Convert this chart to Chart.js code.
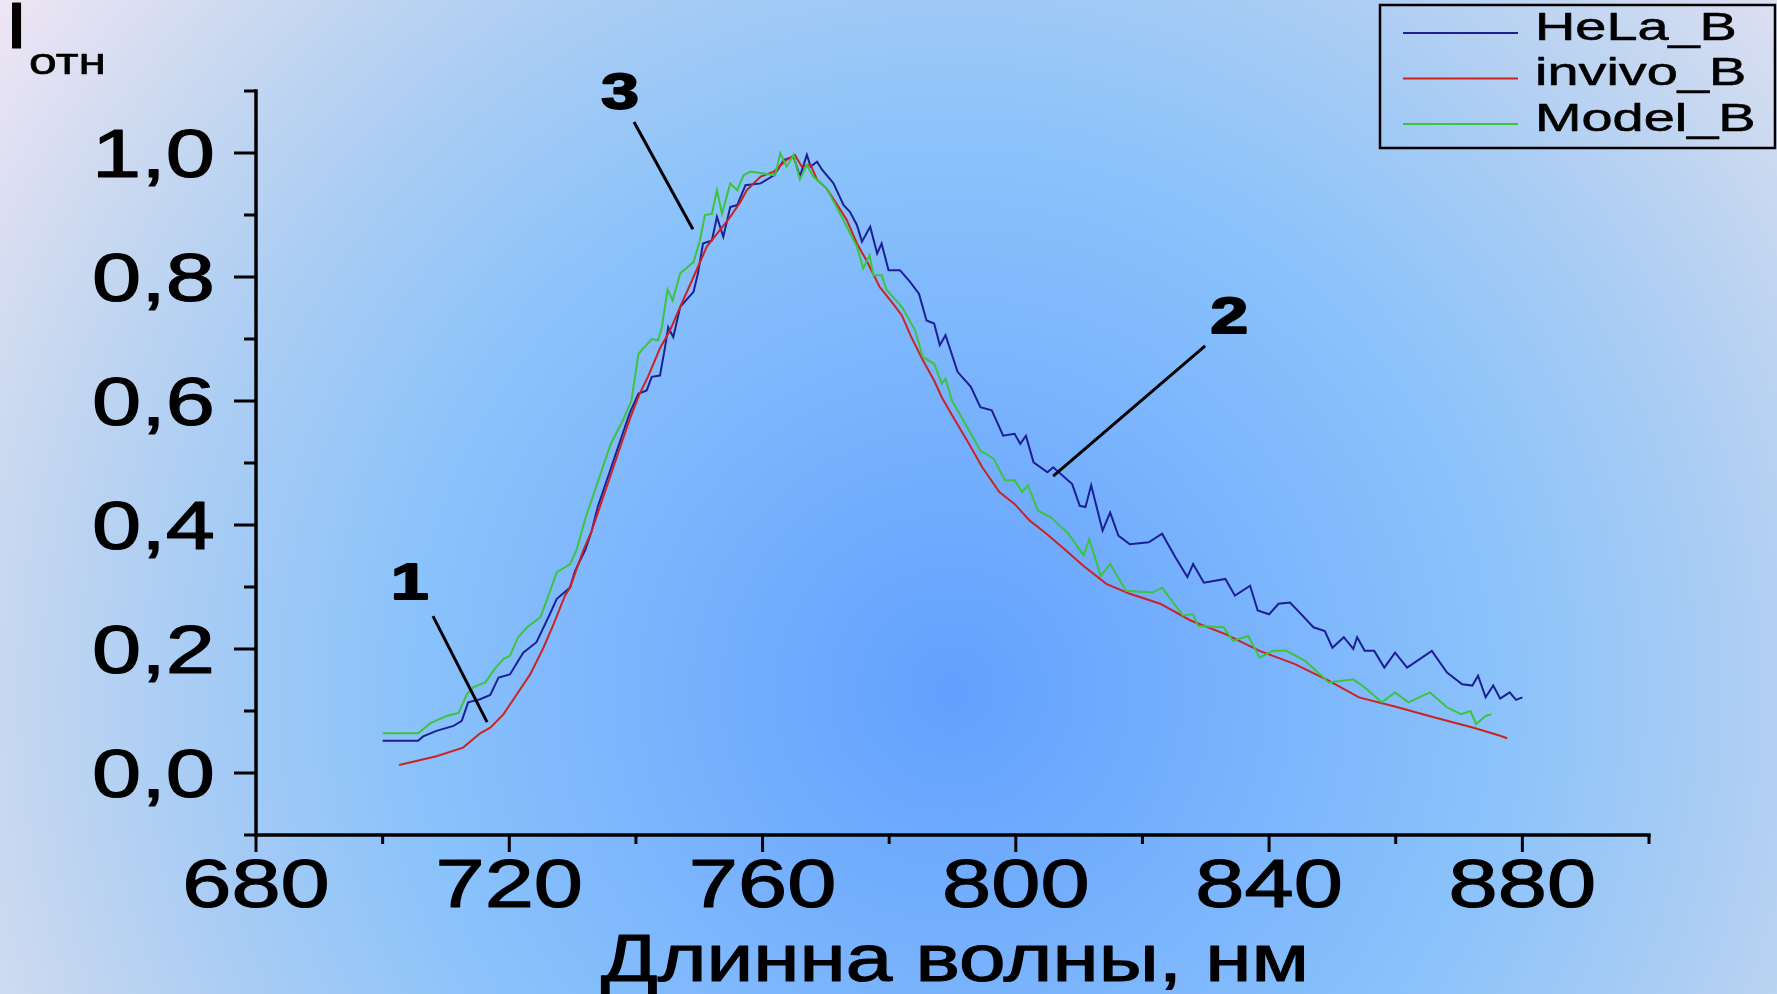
<!DOCTYPE html>
<html>
<head>
<meta charset="utf-8">
<script src="https://cdn.jsdelivr.net/npm/chart.js@4.4.1/dist/chart.umd.min.js"></script>
<style>
  html, body { margin: 0; padding: 0; }
  body {
    width: 1777px; height: 994px; overflow: hidden;
    background: radial-gradient(circle 1180px at 952px 690px, #62a0fe 0px, #78b2fd 280px, #8ac2fb 540px, #a8ccf4 760px, #c8d8f0 960px, #f0e6f4 1180px);
  }
  canvas { display: block; }
</style>
</head>
<body>
<canvas id="chart" width="1777" height="994"></canvas>
<script>
// Подписи осей и делений
const xTicks = [680, 720, 760, 800, 840, 880];
const xMinorTicks = [700, 740, 780, 820, 860, 900];
const yTicks = [0, 0.2, 0.4, 0.6, 0.8, 1.0];
const yMinorTicks = [-0.1, 0.1, 0.3, 0.5, 0.7, 0.9, 1.1];
const yTickLabels = ['0,0', '0,2', '0,4', '0,6', '0,8', '1,0'];
const xTitle = 'Длинна волны, нм';
const yTitle = 'I';
const yTitleSub = 'отн';

// Спектры (длина волны, нм / относительная интенсивность)
const helaNm = [
  700, 705.6, 706.4, 708.5, 711.2, 712.5, 713.5, 715.4, 717, 718.3,
  720.1, 722.2, 724.3, 726.4, 727.5, 729.6, 730.4, 732, 733, 734,
  735, 736, 737, 738, 739, 740.4, 741.7, 742.5, 743.8, 744.6,
  745.1, 745.9, 747, 749.1, 749.8, 750.6, 752, 752.8, 753.8, 754.9,
  756, 757.3, 759.7, 761.8, 763.4, 764.9, 765.9, 767, 767.6, 768.6,
  769.4, 771.2, 772.8, 773.8, 774.9, 775.7, 777, 778.1, 778.8, 779.9,
  781.7, 783.3, 784.7, 785.9, 787.1, 788, 788.9, 790.8, 792.9, 794.4,
  796.2, 798, 799.8, 800.7, 801.6, 802.8, 805, 805.9, 808.9, 810.1,
  811, 811.9, 813.7, 814.9, 816.2, 818, 821, 823.1, 825.2, 827.1,
  828, 829.7, 833.1, 834.6, 837, 838.2, 840, 841.5, 843.3, 844.8,
  847, 848.8, 850, 851.8, 853.3, 853.9, 855.1, 856.6, 858.2, 859.9,
  861.8, 865.7, 868.1, 870.5, 872.1, 873, 874.2, 875.4, 876.5, 878,
  879, 880
];
const helaI = [
  0.052, 0.052, 0.059, 0.068, 0.076, 0.084, 0.114, 0.119, 0.126, 0.154,
  0.159, 0.194, 0.211, 0.256, 0.281, 0.299, 0.326, 0.36, 0.39, 0.43,
  0.46, 0.49, 0.52, 0.55, 0.58, 0.612, 0.617, 0.639, 0.641, 0.687,
  0.719, 0.703, 0.752, 0.776, 0.806, 0.854, 0.859, 0.897, 0.865, 0.913,
  0.916, 0.948, 0.951, 0.964, 0.989, 0.994, 0.962, 0.997, 0.978, 0.986,
  0.973, 0.951, 0.916, 0.905, 0.884, 0.857, 0.881, 0.838, 0.854, 0.811,
  0.811, 0.792, 0.773, 0.730, 0.725, 0.690, 0.706, 0.647, 0.623, 0.590,
  0.585, 0.544, 0.547, 0.531, 0.544, 0.501, 0.485, 0.493, 0.466, 0.431,
  0.429, 0.464, 0.391, 0.420, 0.383, 0.369, 0.372, 0.386, 0.348, 0.316,
  0.337, 0.307, 0.313, 0.286, 0.302, 0.262, 0.256, 0.273, 0.275, 0.259,
  0.235, 0.229, 0.202, 0.219, 0.200, 0.219, 0.197, 0.197, 0.170, 0.194,
  0.170, 0.197, 0.162, 0.143, 0.141, 0.157, 0.122, 0.141, 0.120, 0.130,
  0.118, 0.122
];

const invivoNm = [
  702.6, 704.8, 708.5, 712.7, 715.4, 717, 719.1, 721.2, 723.3, 725.4,
  727, 728.8, 729.6, 730.9, 731.7, 733, 734, 735, 736, 737,
  738, 739, 740.6, 741.9, 743.8, 745.4, 747, 749.1, 751.2, 753.3,
  754.9, 756.5, 757.5, 759.7, 761.8, 763.8, 765.1, 766.2, 767.6, 768.6,
  770.1, 771.7, 773.3, 774.9, 776.4, 778.5, 780.6, 782, 783.5, 785.3,
  787.1, 788.3, 790.1, 792.6, 794.7, 797.4, 799.8, 802.2, 804.6, 807.7,
  810.7, 814.3, 818, 822.8, 827.6, 833.1, 838.5, 844, 849.4, 854.2,
  860.3, 866.3, 872.3, 876.5, 877.6
];
const invivoI = [
  0.013, 0.018, 0.027, 0.041, 0.064, 0.073, 0.095, 0.127, 0.159, 0.202,
  0.240, 0.286, 0.299, 0.337, 0.359, 0.39, 0.42, 0.45, 0.48, 0.51,
  0.54, 0.57, 0.612, 0.639, 0.685, 0.714, 0.752, 0.800, 0.849, 0.876,
  0.897, 0.921, 0.940, 0.962, 0.970, 0.989, 0.997, 0.978, 0.981, 0.957,
  0.943, 0.918, 0.892, 0.854, 0.827, 0.784, 0.757, 0.738, 0.703, 0.666,
  0.633, 0.606, 0.574, 0.531, 0.493, 0.453, 0.434, 0.407, 0.388, 0.361,
  0.334, 0.305, 0.289, 0.273, 0.246, 0.224, 0.197, 0.176, 0.149, 0.122,
  0.106, 0.089, 0.073, 0.060, 0.056
];

const modelNm = [
  700, 705.6, 707.5, 710.1, 712, 713.3, 714.3, 716.2, 717.7, 719.1,
  720.1, 721.4, 722.8, 724.9, 725.9, 727.5, 729.6, 730.6, 732, 733,
  734, 735, 736, 737, 738, 739.3, 740.4, 742.5, 743.5, 744.1,
  745, 745.8, 747, 749.1, 750.1, 750.9, 752, 752.8, 753.6, 754.9,
  756, 757, 758.1, 760.2, 762, 762.8, 763.8, 764.9, 765.9, 767,
  768, 770.1, 771.7, 773.3, 774.9, 775.9, 776.9, 777.5, 778.8, 779.6,
  782, 784.1, 785.3, 787.1, 788.3, 788.9, 789.9, 792.6, 794.4, 796.5,
  798.3, 799.8, 801, 801.9, 803.5, 805.6, 808.3, 810.7, 811.6, 813.4,
  814.9, 817.4, 821.6, 823.1, 826.4, 828, 828.8, 832.8, 834.3, 836.7,
  838.5, 840.6, 842.7, 845.7, 849.4, 853.3, 855.1, 857.8, 859.9, 862,
  865.4, 868.1, 870.3, 871.8, 872.7, 874.2, 875.1
];
const modelI = [
  0.064, 0.064, 0.080, 0.092, 0.097, 0.127, 0.138, 0.146, 0.168, 0.184,
  0.189, 0.219, 0.235, 0.251, 0.278, 0.324, 0.337, 0.359, 0.41, 0.44,
  0.47, 0.50, 0.53, 0.55, 0.57, 0.601, 0.676, 0.700, 0.698, 0.719,
  0.780, 0.762, 0.806, 0.824, 0.859, 0.900, 0.902, 0.940, 0.902, 0.951,
  0.940, 0.964, 0.970, 0.967, 0.964, 1.000, 0.978, 0.997, 0.957, 0.981,
  0.962, 0.943, 0.913, 0.881, 0.849, 0.814, 0.835, 0.803, 0.803, 0.779,
  0.752, 0.714, 0.671, 0.660, 0.628, 0.636, 0.601, 0.553, 0.520, 0.507,
  0.472, 0.472, 0.453, 0.464, 0.423, 0.412, 0.386, 0.351, 0.377, 0.318,
  0.337, 0.294, 0.291, 0.299, 0.254, 0.256, 0.237, 0.235, 0.213, 0.221,
  0.186, 0.197, 0.197, 0.181, 0.146, 0.151, 0.138, 0.114, 0.130, 0.114,
  0.130, 0.106, 0.095, 0.100, 0.079, 0.092, 0.095
];

// Метки кривых 1, 2, 3 и выноски (в координатах данных)
const markLabels = ['1', '2', '3'];
const markNm = [704.3, 833.7, 737.5];
const markI = [0.281, 0.710, 1.071];
const leaderNm = [[707.95, 716.5], [829.9, 805.9], [739.7, 749.0]];
const leaderI = [[0.253, 0.082], [0.689, 0.479], [1.050, 0.877]];

const FONT = '"Liberation Sans", Arial, sans-serif';

function pts(xs, ys) {
  return xs.map((x, i) => ({ x: x, y: ys[i] }));
}

// Текст, растянутый по горизонтали (как на исходном слайде); weight - обводка для "жирности"
function wideText(ctx, text, x, y, font, sx, align, weight) {
  ctx.save();
  ctx.font = font;
  ctx.textAlign = align;
  ctx.textBaseline = 'alphabetic';
  ctx.translate(x, y);
  ctx.scale(sx, 1);
  ctx.fillText(text, 0, 0);
  if (weight) {
    ctx.lineWidth = weight;
    ctx.lineJoin = 'round';
    ctx.strokeText(text, 0, 0);
  }
  ctx.restore();
}

function fitText(ctx, text, x, y, font, width, align, weight) {
  ctx.save();
  ctx.font = font;
  const w = ctx.measureText(text).width;
  ctx.restore();
  wideText(ctx, text, x, y, font, width / w, align, weight);
}

// Оси, деления, подписи, легенда и метки
const axesPlugin = {
  id: 'axesPlugin',
  afterDraw(chart) {
    const ctx = chart.ctx;
    const sx = chart.scales.x, sy = chart.scales.y;
    const a = chart.chartArea;
    ctx.save();
    ctx.strokeStyle = '#000';
    ctx.fillStyle = '#000';

    ctx.lineWidth = 3.5;
    ctx.lineCap = 'square';
    ctx.beginPath();
    ctx.moveTo(a.left, a.top);
    ctx.lineTo(a.left, a.bottom);
    ctx.lineTo(a.right, a.bottom);
    ctx.stroke();

    ctx.lineCap = 'butt';
    ctx.lineWidth = 3;
    ctx.beginPath();
    yTicks.forEach(v => {
      const y = sy.getPixelForValue(v);
      ctx.moveTo(a.left - 22, y); ctx.lineTo(a.left, y);
    });
    yMinorTicks.forEach(v => {
      const y = sy.getPixelForValue(v);
      ctx.moveTo(a.left - 12, y); ctx.lineTo(a.left, y);
    });
    xTicks.forEach(v => {
      const x = sx.getPixelForValue(v);
      ctx.moveTo(x, a.bottom); ctx.lineTo(x, a.bottom + 17);
    });
    xMinorTicks.forEach(v => {
      const x = sx.getPixelForValue(v);
      ctx.moveTo(x, a.bottom); ctx.lineTo(x, a.bottom + 9);
    });
    ctx.stroke();

    // Подписи делений
    yTicks.forEach((v, i) => {
      wideText(ctx, yTickLabels[i], a.left - 41, sy.getPixelForValue(v) + 24, '68px ' + FONT, 1.3, 'right', 1.2);
    });
    xTicks.forEach(v => {
      wideText(ctx, String(v), sx.getPixelForValue(v), a.bottom + 72, '68px ' + FONT, 1.3, 'center', 1.2);
    });

    // Названия осей
    fitText(ctx, xTitle, 955, 981, '67px ' + FONT, 708, 'center', 1.2);
    wideText(ctx, yTitle, 5, 48, '64px ' + FONT, 1.3, 'left', 1);
    fitText(ctx, yTitleSub, 29, 74, '37px ' + FONT, 77, 'left', 0.6);

    // Легенда
    ctx.lineWidth = 2.5;
    ctx.strokeRect(1380, 5, 395, 143);
    chart.data.datasets.slice(0, 3).forEach((ds, i) => {
      const y = 33 + i * 45.5;
      ctx.strokeStyle = ds.borderColor;
      ctx.lineWidth = 2;
      ctx.beginPath();
      ctx.moveTo(1403, y); ctx.lineTo(1518, y);
      ctx.stroke();
      ctx.strokeStyle = '#000';
      wideText(ctx, ds.label, 1535, y + 6.5, '38px ' + FONT, 1.47, 'left', 0.6);
    });

    // Номера кривых
    markLabels.forEach((t, i) => {
      wideText(ctx, t, sx.getPixelForValue(markNm[i]), sy.getPixelForValue(markI[i]), 'bold 50px ' + FONT, 1.35, 'center', 2);
    });
    ctx.restore();
  }
};

const datasets = [
  { label: 'HeLa_B', data: pts(helaNm, helaI), borderColor: '#1e1e96', order: 3 },
  { label: 'invivo_B', data: pts(invivoNm, invivoI), borderColor: '#cc2222', order: 2 },
  { label: 'Model_B', data: pts(modelNm, modelI), borderColor: '#3cc43c', order: 1 }
].map(ds => Object.assign(ds, { borderWidth: 2, pointRadius: 0, tension: 0, fill: false }));

leaderNm.forEach((xs, i) => {
  datasets.push({
    label: 'leader' + (i + 1),
    data: pts(xs, leaderI[i]),
    borderColor: '#000',
    borderWidth: 3,
    pointRadius: 0,
    fill: false,
    order: 0
  });
});

new Chart(document.getElementById('chart').getContext('2d'), {
  type: 'line',
  data: { datasets: datasets },
  options: {
    responsive: false,
    animation: false,
    devicePixelRatio: 1,
    layout: { padding: { left: 256, right: 128, top: 91, bottom: 159 } },
    plugins: {
      legend: { display: false },
      tooltip: { enabled: false },
      title: { display: false }
    },
    scales: {
      x: { type: 'linear', min: 680, max: 900, display: false },
      y: { type: 'linear', min: -0.1, max: 1.1, display: false }
    }
  },
  plugins: [axesPlugin]
});
</script>
</body>
</html>
